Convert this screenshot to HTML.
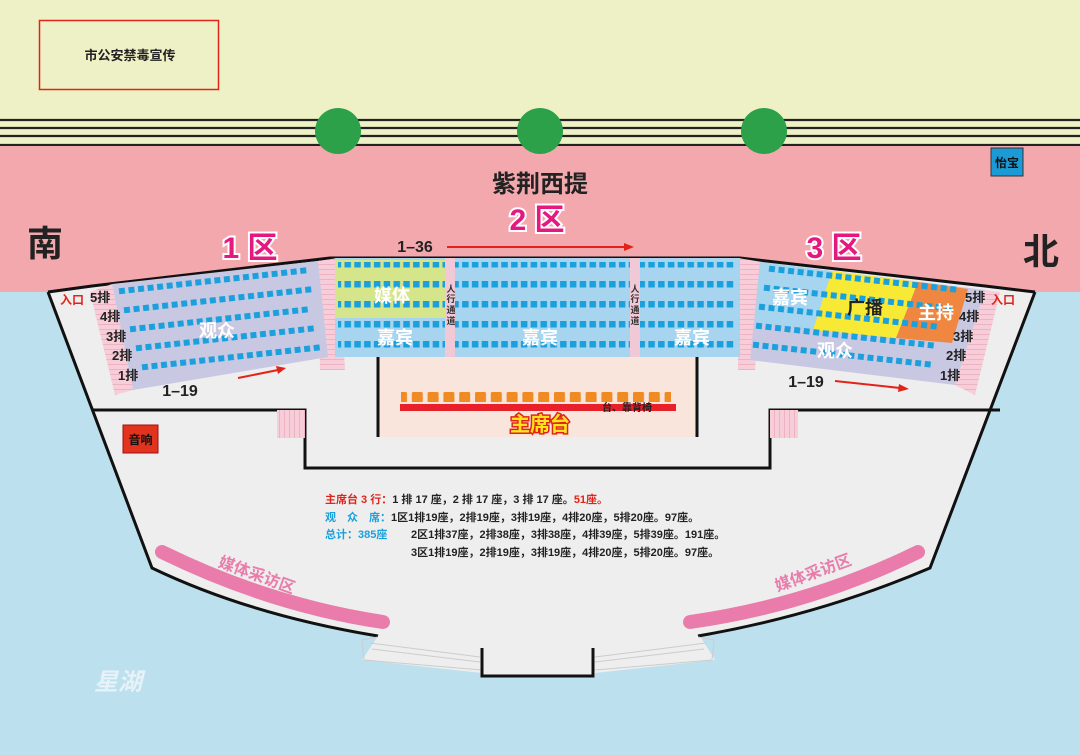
<!DOCTYPE html>
<html><head><meta charset="utf-8"><style>
html,body{margin:0;padding:0;background:#fff}
svg{display:block}
text{font-family:"Liberation Sans","Noto Sans CJK SC",sans-serif;font-weight:bold}
</style></head><body>
<svg width="1080" height="755" viewBox="0 0 1080 755" xmlns="http://www.w3.org/2000/svg">
<defs>
<pattern id="s" width="9.6" height="10" patternUnits="userSpaceOnUse"><rect x="1.5" y="1.5" width="6" height="6" fill="#1aa0dc"/></pattern>
<pattern id="s2" width="9.8" height="10" patternUnits="userSpaceOnUse"><rect x="1.5" y="1" width="6.5" height="6.5" fill="#1aa0dc"/></pattern>
<pattern id="o" width="15.8" height="14" patternUnits="userSpaceOnUse"><rect x="1" y="0" width="11" height="11" rx="1.5" fill="#f08a22"/></pattern>
<pattern id="st" width="10" height="5" patternUnits="userSpaceOnUse"><rect width="10" height="5" fill="#f6cdd8"/><line x1="0" y1="4.5" x2="10" y2="4.5" stroke="#e9a9bb" stroke-width="0.7"/></pattern>
<pattern id="sv" width="5" height="10" patternUnits="userSpaceOnUse"><rect width="5" height="10" fill="#f6cdd8"/><line x1="4.5" y1="0" x2="4.5" y2="10" stroke="#e9a9bb" stroke-width="0.7"/></pattern>
</defs>
<rect width="1080" height="755" fill="#bde0ef"/>
<rect width="1080" height="146" fill="#eef1c5"/>
<g stroke="#222" stroke-width="2.2"><line x1="0" y1="120" x2="1080" y2="120"/><line x1="0" y1="128" x2="1080" y2="128"/><line x1="0" y1="136" x2="1080" y2="136"/><line x1="0" y1="145" x2="1080" y2="145"/></g>
<path d="M0 146H1080V292H1035L985 286L740 258H330L92 286L48 292H0Z" fill="#f2a8ac"/>
<circle cx="338" cy="131" r="23" fill="#2ca14a"/><circle cx="540" cy="131" r="23" fill="#2ca14a"/><circle cx="764" cy="131" r="23" fill="#2ca14a"/>
<path d="M48 292L92 286L330 258H740L985 286L1035 292L930 568Q820 615 700 636L715 660L595 673V676H482V673L362 660L378 636Q250 615 152 568Z" fill="#eeeeee"/>
<path d="M48 292L92 286L330 258H740L985 286L1035 292" fill="none" stroke="#111" stroke-width="3"/>
<path d="M48 292L152 568Q250 615 378 636" fill="none" stroke="#111" stroke-width="3"/>
<path d="M1035 292L930 568Q820 615 698 636" fill="none" stroke="#111" stroke-width="3"/>
<g fill="none" stroke="#ccc" stroke-width="1"><path d="M378 637L362 640L364 660L482 670"/><path d="M370 643L480 657M372 649L480 662"/><path d="M698 637L714 640L712 660L595 670"/><path d="M706 643L595 657M704 649L595 662"/></g>
<path d="M482 648V676H593V648" fill="none" stroke="#111" stroke-width="3"/>
<g stroke="#111" stroke-width="3" fill="none"><path d="M93 410H305V468H770V410H1000"/></g>
<rect x="277" y="410" width="28" height="28" fill="url(#sv)"/><rect x="770" y="410" width="28" height="28" fill="url(#sv)"/>
<rect x="378" y="357" width="319" height="80" fill="#f9e5dc"/>
<line x1="378" y1="357" x2="378" y2="437" stroke="#111" stroke-width="3"/><line x1="697" y1="357" x2="697" y2="437" stroke="#111" stroke-width="3"/>
<rect x="401" y="390" width="270" height="12" fill="url(#o)"/>
<rect x="400" y="404" width="276" height="7" fill="#e8202a"/>
<text x="602" y="411" font-size="10" fill="#222">台、靠背椅</text>
<text x="540" y="431" font-size="20" fill="#ffe41a" stroke="#e2231a" stroke-width="3" paint-order="stroke" text-anchor="middle">主席台</text>
<!-- zone1 -->
<path d="M90 292L112 284L133 390L115 395Z" fill="url(#st)"/>
<path d="M318 261L338 258L345 370L320 370Z" fill="url(#st)"/>
<path d="M112 284L318 261L328 357L133 390Z" fill="#c9c8e3"/>
<g fill="url(#s)">
<rect x="0" y="0" width="192" height="9" transform="translate(117,287) rotate(-6.4)"/>
<rect x="0" y="0" width="192" height="9" transform="translate(122,306) rotate(-6.4)"/>
<rect x="0" y="0" width="183" height="9" transform="translate(128,325) rotate(-6.4)"/>
<rect x="0" y="0" width="183" height="9" transform="translate(134,344) rotate(-6.4)"/>
<rect x="0" y="0" width="183" height="9" transform="translate(140,363) rotate(-6.4)"/>
</g>
<text x="217" y="337" font-size="18" fill="#fff" text-anchor="middle">观众</text>
<!-- zone2 -->
<path d="M738 258L762 262L755 370L738 370Z" fill="url(#st)"/>
<rect x="335" y="258" width="405" height="99" fill="#a7d4ee"/>
<rect x="335" y="260" width="110" height="58" fill="#d5e58c"/>
<rect x="445" y="258" width="10" height="99" fill="#f1c9d6"/><rect x="630" y="258" width="10" height="99" fill="#f1c9d6"/>
<g fill="url(#s2)">
<rect x="338" y="262" width="107" height="9"/><rect x="338" y="281" width="107" height="9"/><rect x="338" y="300" width="107" height="9"/><rect x="338" y="320" width="107" height="9"/><rect x="338" y="340" width="107" height="9"/>
<rect x="455" y="262" width="175" height="9"/><rect x="455" y="281" width="175" height="9"/><rect x="455" y="300" width="175" height="9"/><rect x="455" y="320" width="175" height="9"/><rect x="455" y="340" width="175" height="9"/>
<rect x="640" y="262" width="95" height="9"/><rect x="640" y="281" width="95" height="9"/><rect x="640" y="300" width="95" height="9"/><rect x="640" y="320" width="95" height="9"/><rect x="640" y="340" width="95" height="9"/>
</g>
<g font-size="9" fill="#333" font-weight="normal" text-anchor="middle"><text x="451" y="292">人</text><text x="451" y="302">行</text><text x="451" y="313">通</text><text x="451" y="324">道</text><text x="635" y="292">人</text><text x="635" y="302">行</text><text x="635" y="313">通</text><text x="635" y="324">道</text></g>
<g font-size="18" fill="#fff" text-anchor="middle"><text x="392" y="302">媒体</text><text x="395" y="344">嘉宾</text><text x="540" y="344">嘉宾</text><text x="692" y="344">嘉宾</text></g>
<!-- zone3 -->
<path d="M985 290L1000 292L975 395L955 385Z" fill="url(#st)"/>
<path d="M760 262L985 290L955 385L750 360Z" fill="#c9c8e3"/>
<path d="M760 262L832 271L813 330L755 323Z" fill="#a7d4ee"/>
<path d="M832 271L918 282L896 338L813 330Z" fill="#f7e934"/>
<path d="M918 282L968 289L952 343L896 338Z" fill="#f08740"/>
<g fill="url(#s)">
<rect x="0" y="0" width="192" height="9" transform="translate(768,264) rotate(6.4)"/>
<rect x="0" y="0" width="192" height="9" transform="translate(763,283) rotate(6.4)"/>
<rect x="0" y="0" width="183" height="9" transform="translate(758,302) rotate(6.4)"/>
<rect x="0" y="0" width="183" height="9" transform="translate(755,321) rotate(6.4)"/>
<rect x="0" y="0" width="183" height="9" transform="translate(752,340) rotate(6.4)"/>
</g>
<text x="790" y="304" font-size="18" fill="#fff" text-anchor="middle">嘉宾</text>
<text x="865" y="314" font-size="18" fill="#222" text-anchor="middle">广播</text>
<text x="936" y="319" font-size="18" fill="#fff" text-anchor="middle">主持</text>
<text x="835" y="357" font-size="18" fill="#fff" text-anchor="middle">观众</text>
<g font-size="13" fill="#222">
<text x="90" y="302">5排</text><text x="100" y="321">4排</text><text x="106" y="341">3排</text><text x="112" y="360">2排</text><text x="118" y="380">1排</text>
<text x="965" y="302">5排</text><text x="959" y="321">4排</text><text x="953" y="341">3排</text><text x="946" y="360">2排</text><text x="940" y="380">1排</text>
</g>
<text x="60" y="304" font-size="12" fill="#e2231a" font-weight="normal">入口</text>
<text x="991" y="304" font-size="12" fill="#e2231a" font-weight="normal">入口</text>
<g font-size="30" fill="#e4187e" stroke="#fff" stroke-width="4" paint-order="stroke" text-anchor="middle"><text x="250" y="258">1 区</text><text x="537" y="230">2 区</text><text x="834" y="258">3 区</text></g>
<text x="540" y="192" font-size="24" fill="#222" text-anchor="middle">紫荆西提</text>
<text x="45" y="256" font-size="36" fill="#222" text-anchor="middle">南</text>
<text x="1041" y="264" font-size="36" fill="#222" text-anchor="middle">北</text>
<text x="415" y="252" font-size="16" fill="#222" text-anchor="middle">1–36</text>
<text x="180" y="396" font-size="16" fill="#222" text-anchor="middle">1–19</text>
<text x="806" y="387" font-size="16" fill="#222" text-anchor="middle">1–19</text>
<g stroke="#e2231a" stroke-width="2" fill="#e2231a">
<line x1="447" y1="247" x2="626" y2="247"/><path d="M634 247L624 243L624 251Z" stroke="none"/>
<line x1="238" y1="378" x2="278" y2="370"/><path d="M286 368L276 366L278 374Z" stroke="none"/>
<line x1="835" y1="381" x2="900" y2="388"/><path d="M909 389L899 384L898 392Z" stroke="none"/>
</g>
<rect x="39.5" y="20.5" width="179" height="69" fill="none" stroke="#e2231a" stroke-width="1.5"/>
<text x="130" y="60" font-size="13" fill="#222" text-anchor="middle">市公安禁毒宣传</text>
<rect x="991" y="148" width="32" height="28" fill="#1b9ad6" stroke="#333" stroke-width="1"/>
<text x="1007" y="167" font-size="12" fill="#111" text-anchor="middle">怡宝</text>
<rect x="123" y="425" width="35" height="28" fill="#e2331f" stroke="#a01010" stroke-width="1"/>
<text x="140.5" y="444" font-size="12" fill="#111" text-anchor="middle">音响</text>
<path d="M162 552Q270 605 383 622" fill="none" stroke="#e97cab" stroke-width="14" stroke-linecap="round"/>
<path d="M690 622Q810 605 918 552" fill="none" stroke="#e97cab" stroke-width="14" stroke-linecap="round"/>
<text x="255" y="580" font-size="16" fill="#e97cab" font-weight="normal" text-anchor="middle" transform="rotate(20 255 580)">媒体采访区</text>
<text x="815" y="578" font-size="16" fill="#e97cab" font-weight="normal" text-anchor="middle" transform="rotate(-20 815 578)">媒体采访区</text>
<text x="118" y="690" font-size="24" fill="#e6f2f8" font-style="italic" text-anchor="middle">星湖</text>
<g font-size="11" fill="#222">
<text x="325" y="503"><tspan fill="#e2231a">主席台 3 行：</tspan>1 排 17 座，2 排 17 座，3 排 17 座。<tspan fill="#e2231a">51座。</tspan></text>
<text x="325" y="521"><tspan fill="#1aa0dc">观　众　席：</tspan>1区1排19座，2排19座，3排19座，4排20座，5排20座。97座。</text>
<text x="325" y="538"><tspan fill="#1aa0dc">总计：385座</tspan></text>
<text x="411" y="538">2区1排37座，2排38座，3排38座，4排39座，5排39座。191座。</text>
<text x="411" y="556">3区1排19座，2排19座，3排19座，4排20座，5排20座。97座。</text>
</g>
</svg>
</body></html>
